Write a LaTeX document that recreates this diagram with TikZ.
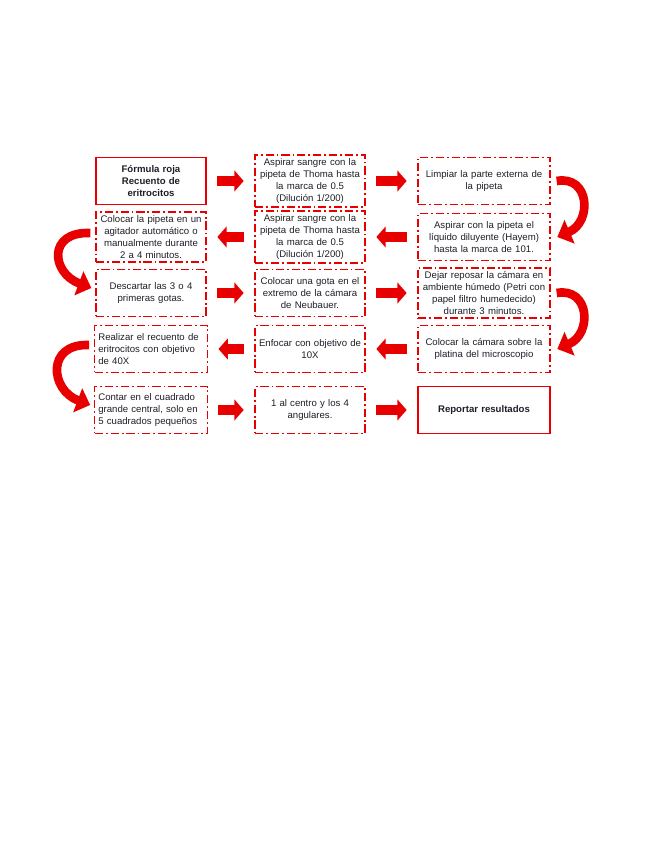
\documentclass[tikz,border=0pt]{standalone}
\usepackage{fontspec}
\setmainfont{Liberation Sans}
\usetikzlibrary{arrows.meta,positioning}
\definecolor{rojo}{RGB}{232,0,0}
\definecolor{tinta}{RGB}{30,30,40}

\begin{document}
\begin{tikzpicture}[
  font=\fontsize{8.2}{10.2}\selectfont,
  on grid,
  paso/.style={draw=rojo, line width=1.1pt, text=tinta,
               dash pattern=on 7pt off 2.5pt on 1.5pt off 2.5pt,
               align=center, minimum height=1.4cm, inner xsep=2pt, inner ysep=3pt},
  solido/.style={paso, solid},
  angosto/.style={text width=3.16cm},
  ancho/.style={text width=3.82cm},
  flecha/.style={draw=rojo, line width=3.2mm,
                 -{Triangle[length=2.8mm, width=6.2mm]},
                 shorten <=3mm, shorten >=3.2mm},
  curva/.style={draw=rojo, line width=2.6mm,
                -{Triangle[length=4mm, width=7.5mm]}}
]
\useasboundingbox (0,0) rectangle (19.65,-25.44);

% fila 1
\node[solido, angosto] (formula) at (4.53,-5.43)
  {\textbf{Fórmula roja}\\\textbf{Recuento de}\\\textbf{eritrocitos}};
\node[paso, angosto, right=4.77cm of formula] (aspira)
  {Aspirar sangre con la\\pipeta de  Thoma hasta\\la marca de 0.5\\(Dilución 1/200)};
\node[paso, ancho, right=5.22cm of aspira] (limpia)
  {Limpiar la parte externa de\\la pipeta};

% fila 2
\node[paso, ancho, below=1.68cm of limpia] (diluye)
  {Aspirar con la pipeta el\\líquido diluyente (Hayem)\\hasta la marca de 101.};
\node[paso, angosto, below=1.68cm of aspira] (aspirb)
  {Aspirar sangre con la\\pipeta de  Thoma hasta\\la marca de 0.5\\(Dilución 1/200)};
\node[paso, angosto, below=1.68cm of formula] (agita)
  {Colocar la pipeta en un\\agitador automático o\\manualmente durante\\2 a 4 minutos.};

% fila 3
\node[paso, angosto, below=1.68cm of agita] (descarta)
  {Descartar las 3 o 4\\primeras gotas.};
\node[paso, angosto, below=1.68cm of aspirb] (gota)
  {Colocar una gota en el\\extremo de la cámara\\de Neubauer.};
\node[paso, ancho, below=1.68cm of diluye] (reposa)
  {Dejar reposar la cámara en\\ambiente húmedo (Petri con\\papel filtro humedecido)\\durante 3 minutos.};

% fila 4
\node[paso, ancho, below=1.68cm of reposa] (platina)
  {Colocar la cámara sobre la\\platina del microscopio};
\node[paso, angosto, below=1.68cm of gota] (enfoca)
  {Enfocar con objetivo de\\10X};
\node[paso, angosto, align=left, inner xsep=3pt, below=1.68cm of descarta] (recuento)
  {Realizar el recuento de\\eritrocitos con objetivo\\de 40X};

% fila 5
\node[paso, angosto, align=left, inner xsep=3pt, below=1.83cm of recuento] (cuenta)
  {Contar en el cuadrado\\grande central, solo en\\5 cuadrados pequeños};
\node[paso, angosto, below=1.83cm of enfoca] (angular)
  {1 al centro y los 4\\angulares.};
\node[solido, ancho, below=1.83cm of platina] (reporta)
  {\textbf{Reportar resultados}};

% flechas rectas
\draw[flecha] (formula) -- (aspira);
\draw[flecha] (aspira) -- (limpia);
\draw[flecha] (diluye) -- (aspirb);
\draw[flecha] (aspirb) -- (agita);
\draw[flecha] (descarta) -- (gota);
\draw[flecha] (gota) -- (reposa);
\draw[flecha] (platina) -- (enfoca);
\draw[flecha] (enfoca) -- (recuento);
\draw[flecha] (cuenta) -- (angular);
\draw[flecha] (angular) -- (reporta);

% flechas curvas
\draw[curva] ([xshift=1.8mm]limpia.east) .. controls +(1.0,0.18) and +(1.05,0.45) .. ([xshift=2mm]diluye.east);
\draw[curva] ([xshift=1.8mm]reposa.east) .. controls +(1.0,0.18) and +(1.05,0.45) .. ([xshift=2mm]platina.east);
\draw[curva] ([xshift=-1.5mm,yshift=1.2mm]agita.west) .. controls +(-1.3,0.05) and +(-1.2,0.45) .. ([xshift=-1.2mm,yshift=1.5mm]descarta.west);
\draw[curva] ([xshift=-1.5mm,yshift=1.2mm]recuento.west) .. controls +(-1.3,0.05) and +(-1.2,0.45) .. ([xshift=-1.2mm,yshift=1.5mm]cuenta.west);
\end{tikzpicture}
\end{document}
